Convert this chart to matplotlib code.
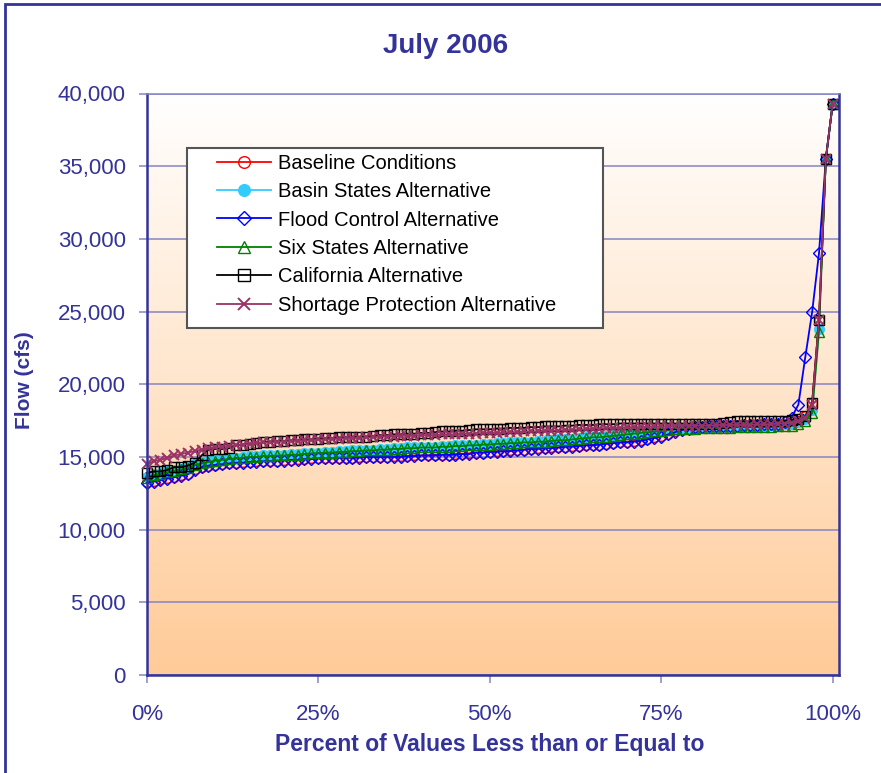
import numpy as np
import matplotlib
matplotlib.use("Agg")
import matplotlib.pyplot as plt
from matplotlib.colors import LinearSegmentedColormap
from matplotlib.patches import Rectangle

# percent of values (0..100 %)
percent = np.arange(101) / 100.0

baseline = [
    13250, 13350, 13450, 13550, 13650, 13750, 13850, 14150, 14300, 14400,
    14450, 14500, 14550, 14600, 14650, 14650, 14700, 14700, 14750, 14750,
    14800, 14800, 14850, 14850, 14900, 14900, 14900, 14950, 14950, 14950,
    14950, 15000, 15000, 15000, 15000, 15000, 15050, 15050, 15050, 15100,
    15100, 15100, 15150, 15150, 15150, 15200, 15200, 15250, 15300, 15300,
    15350, 15400, 15400, 15450, 15450, 15500, 15550, 15600, 15600, 15650,
    15650, 15700, 15750, 15750, 15800, 15850, 15850, 15900, 15950, 16000,
    16050, 16100, 16150, 16250, 16350, 16450, 16600, 16750, 16900, 16950,
    17000, 17050, 17100, 17100, 17100, 17150, 17150, 17200, 17200, 17200,
    17250, 17250, 17300, 17300, 17400, 17500, 17800, 18700, 24400, 35500,
    39300]

basin_states = [
    13600, 13800, 13900, 14000, 14100, 14200, 14300, 14500, 14600, 14700,
    14800, 14850, 14900, 14950, 15000, 15050, 15050, 15100, 15100, 15150,
    15150, 15200, 15200, 15250, 15300, 15300, 15350, 15350, 15400, 15400,
    15450, 15450, 15500, 15500, 15550, 15550, 15600, 15600, 15650, 15650,
    15700, 15700, 15700, 15750, 15750, 15800, 15800, 15850, 15850, 15900,
    15900, 15950, 15950, 16000, 16000, 16050, 16050, 16100, 16100, 16150,
    16200, 16200, 16250, 16300, 16350, 16400, 16400, 16450, 16500, 16550,
    16600, 16650, 16700, 16750, 16800, 16850, 16900, 16950, 17000, 17000,
    17000, 17050, 17050, 17050, 17100, 17100, 17100, 17150, 17150, 17150,
    17150, 17200, 17200, 17250, 17300, 17400, 17600, 18200, 23800, 35500,
    39300]

flood_control = [
    13200, 13300, 13400, 13500, 13600, 13700, 13800, 14100, 14300, 14400,
    14450, 14500, 14550, 14600, 14600, 14650, 14650, 14700, 14700, 14750,
    14750, 14800, 14800, 14850, 14850, 14900, 14900, 14900, 14950, 14950,
    14950, 14950, 15000, 15000, 15000, 15000, 15000, 15000, 15050, 15050,
    15100, 15100, 15100, 15150, 15150, 15150, 15200, 15200, 15300, 15300,
    15350, 15350, 15400, 15400, 15450, 15500, 15550, 15550, 15600, 15600,
    15650, 15700, 15700, 15750, 15800, 15800, 15850, 15900, 15950, 16000,
    16000, 16050, 16100, 16200, 16300, 16400, 16550, 16700, 16850, 16950,
    17050, 17050, 17100, 17100, 17100, 17150, 17150, 17200, 17200, 17200,
    17250, 17250, 17300, 17400, 17700, 18600, 21850, 24950, 29000, 35500,
    39300]

six_states = [
    13550, 13750, 13850, 13950, 14050, 14150, 14250, 14450, 14550, 14650,
    14750, 14800, 14850, 14900, 14950, 15000, 15000, 15050, 15050, 15100,
    15100, 15150, 15150, 15200, 15250, 15250, 15300, 15300, 15350, 15350,
    15400, 15400, 15450, 15450, 15500, 15500, 15550, 15550, 15600, 15600,
    15650, 15650, 15650, 15700, 15700, 15750, 15750, 15800, 15800, 15850,
    15850, 15900, 15900, 15950, 15950, 16000, 16000, 16050, 16050, 16100,
    16150, 16150, 16200, 16250, 16300, 16350, 16350, 16400, 16450, 16500,
    16550, 16600, 16650, 16700, 16750, 16800, 16850, 16900, 16950, 16950,
    16950, 17000, 17000, 17000, 17000, 17000, 17050, 17050, 17050, 17050,
    17050, 17050, 17100, 17100, 17150, 17250, 17500, 18000, 23600, 35500,
    39300]

california = [
    13900, 14000, 14000, 14100, 14300, 14300, 14400, 14600, 15100, 15500,
    15550, 15550, 15600, 15800, 15850, 15900, 15950, 16000, 16050, 16100,
    16100, 16150, 16150, 16200, 16200, 16250, 16300, 16300, 16350, 16350,
    16400, 16400, 16400, 16450, 16500, 16500, 16550, 16550, 16600, 16600,
    16650, 16650, 16700, 16750, 16750, 16800, 16800, 16850, 16900, 16900,
    16900, 16950, 16950, 17000, 17000, 17000, 17050, 17050, 17100, 17100,
    17100, 17150, 17150, 17200, 17200, 17200, 17250, 17250, 17250, 17300,
    17300, 17300, 17300, 17300, 17300, 17300, 17300, 17300, 17300, 17300,
    17300, 17300, 17300, 17300, 17350, 17400, 17450, 17450, 17450, 17450,
    17450, 17450, 17500, 17500, 17550, 17600, 17800, 18700, 24400, 35500,
    39300]

shortage_protection = [
    14500, 14700, 14800, 14950, 15100, 15200, 15300, 15400, 15500, 15600,
    15650, 15700, 15750, 15800, 15850, 15900, 15950, 16000, 16000, 16050,
    16050, 16100, 16100, 16150, 16150, 16200, 16200, 16250, 16250, 16300,
    16300, 16300, 16350, 16350, 16400, 16400, 16400, 16450, 16450, 16450,
    16500, 16500, 16500, 16550, 16550, 16550, 16600, 16600, 16600, 16650,
    16650, 16650, 16700, 16700, 16700, 16750, 16750, 16750, 16800, 16800,
    16800, 16850, 16850, 16900, 16900, 16950, 16950, 17000, 17000, 17000,
    17050, 17050, 17050, 17100, 17100, 17100, 17100, 17150, 17150, 17150,
    17150, 17150, 17150, 17200, 17200, 17200, 17200, 17200, 17200, 17250,
    17250, 17250, 17300, 17300, 17350, 17450, 17700, 18600, 24400, 35500,
    39300]

x_ticks = [0, 0.25, 0.5, 0.75, 1.0]
x_tick_labels = ["0%", "25%", "50%", "75%", "100%"]
y_ticks = list(range(0, 40001, 5000))

navy = "#333399"
grid_col = "#8585C2"

plt.rcParams["font.family"] = ["Liberation Sans", "DejaVu Sans"]

fig = plt.figure(figsize=(8.81, 7.73), dpi=100)
W, H = 881.0, 773.0
ax = fig.add_axes([146.7 / W, 1 - 675 / H, (839 - 146.7) / W, (675 - 93.5) / H])

# background gradient (white at top to peach at bottom)
cmap = LinearSegmentedColormap.from_list("peach", ["#FFCB98", "#FFFFFF"])
grad = np.linspace(0, 1, 256).reshape(-1, 1)
ax.imshow(grad, cmap=cmap, origin="lower", aspect="auto",
          extent=[0, 1.0092, 0, 40000], zorder=0)

series = [
    ("Baseline Conditions", baseline,
     dict(color="#FF0000", marker="o", mfc="none", ms=7)),
    ("Basin States Alternative", basin_states,
     dict(color="#33CCFF", marker="o", mfc="#33CCFF", ms=7)),
    ("Flood Control Alternative", flood_control,
     dict(color="#0000FF", marker="D", mfc="none", ms=6)),
    ("Six States Alternative", six_states,
     dict(color="#008000", marker="^", mfc="none", ms=7.5)),
    ("California Alternative", california,
     dict(color="#000000", marker="s", mfc="none", ms=7)),
    ("Shortage Protection Alternative", shortage_protection,
     dict(color="#993366", marker="x", ms=7, mew=1.4)),
]

handles = []
for name, vals, st in series:
    h, = ax.plot(percent, vals, lw=1.3, label=name, clip_on=False, **st)
    handles.append(h)

ax.set_xlim(0, 1.0092)
ax.set_ylim(0, 40000)
ax.set_xticks(x_ticks)
ax.set_xticklabels(x_tick_labels)
ax.set_yticks(y_ticks)
ax.set_yticklabels([f"{v:,}" for v in y_ticks])
ax.yaxis.grid(True, color=grid_col, lw=1.1)
ax.xaxis.grid(False)

for side in ["left", "bottom", "right"]:
    ax.spines[side].set_color(navy)
    ax.spines[side].set_linewidth(1.8)
ax.spines["top"].set_color(grid_col)
ax.spines["top"].set_linewidth(1.1)

ax.tick_params(axis="both", direction="out", length=6, width=1.1,
               color=grid_col, labelcolor=navy, labelsize=16)
ax.tick_params(axis="x", pad=15)
ax.tick_params(axis="y", pad=9)

fig.text(446 / W, 1 - 46 / H, "July 2006", ha="center", va="center",
         fontsize=20, fontweight="bold", color=navy)
fig.text(490 / W, 1 - 745 / H, "Percent of Values Less than or Equal to",
         ha="center", va="center", fontsize=16.5, fontweight="bold", color=navy)
fig.text(25 / W, 1 - 380 / H, "Flow (cfs)", ha="center", va="center",
         rotation=90, fontsize=15, fontweight="bold", color=navy)

# legend box
fig.patches.append(Rectangle((187 / W, 1 - 328 / H), 416 / W, 180 / H,
                             transform=fig.transFigure, facecolor="white",
                             edgecolor="#555555", lw=1.5, zorder=5))
leg = fig.legend(handles=handles, loc="upper left",
                 bbox_to_anchor=(203 / W, 1 - 139.5 / H), frameon=False,
                 fontsize=14.5, handlelength=2.68, handletextpad=0.35,
                 labelspacing=0.47, borderpad=0.2, numpoints=1, markerscale=1.2)
leg.set_zorder(6)

# outer figure border
fig.patches.append(Rectangle((4.5 / W, -0.05), 1.2, 1.05 - 3.5 / H,
                             transform=fig.transFigure, facecolor="none",
                             edgecolor=navy, lw=2, zorder=0))

fig.savefig("out.png", dpi=100)
